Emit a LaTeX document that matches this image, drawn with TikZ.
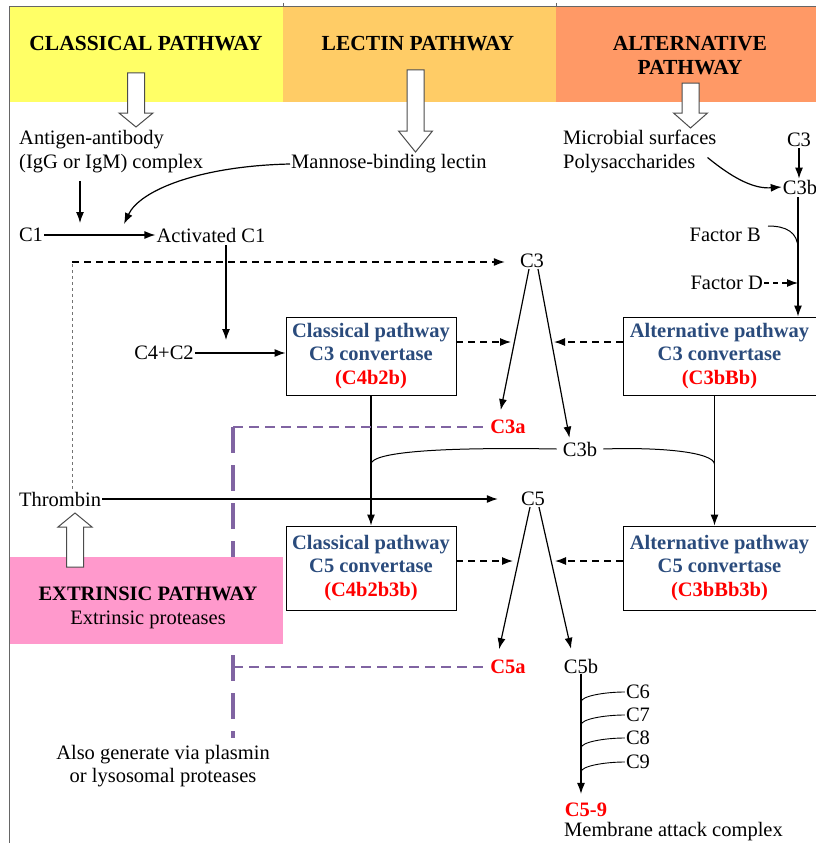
\documentclass[tikz,border=0pt]{standalone}
\usepackage{fontspec}
\setmainfont{Liberation Serif}
\usepackage{xcolor}
\usetikzlibrary{arrows.meta}

\definecolor{classyellow}{HTML}{FFFF66}
\definecolor{lectinorange}{HTML}{FFCC66}
\definecolor{altorange}{HTML}{FF9966}
\definecolor{extpink}{HTML}{FF99CC}
\definecolor{convblue}{HTML}{2A4B7C}
\definecolor{lysopurple}{HTML}{8064A2}

\tikzset{
  txt/.style={inner sep=1pt},
  hdr/.style={font=\fontsize{21.5}{24}\selectfont\bfseries, align=center},
  convbox/.style={draw, line width=0.9pt, align=center, text=convblue, font=\bfseries,
    minimum width=170pt, minimum height=78pt, inner sep=0pt},
  redlbl/.style={text=red, font=\bfseries, inner sep=1pt},
  arr/.style={line width=1.2pt, -{Latex[length=11pt,width=8pt]}},
  dasharr/.style={line width=1.2pt, dash pattern=on 7pt off 5pt, -{Latex[length=11pt,width=8pt]}},
  purpdash/.style={draw=lysopurple, line width=2.6pt, dash pattern=on 10pt off 6pt},
  hollow/.style={draw=black!70, line width=1pt, fill=white}
}

% x, shaft end, head base, tip
\newcommand{\hollowarrow}[4]{%
  \draw[hollow] (#1-8.5,#2) -- (#1+8.5,#2) -- (#1+8.5,#3) -- (#1+17,#3) -- (#1,#4)
    -- (#1-17,#3) -- (#1-8.5,#3) -- cycle;}

\begin{document}
\fontsize{20.5}{23.5}\selectfont
\begin{tikzpicture}[x=1pt,y=-1pt]
  \useasboundingbox (0,0) rectangle (816,843);
  % pathway bands
  \fill[classyellow] (9,7) rectangle (283,102);
  \fill[lectinorange] (283,7) rectangle (556,102);
  \fill[altorange] (556,7) rectangle (816,102);
  \draw[black!60, line width=0.8pt] (9,6) -- (816,6);
  \draw[black!60, line width=0.8pt] (9,6) -- (9,843);
  \foreach \x in {283,556}
    \draw[black!60, line width=0.8pt] (\x,3) -- (\x,7);
  \node[hdr] (classhdr) at (146,44) {CLASSICAL PATHWAY};
  \node[hdr] (lectinhdr) at (418,44) {LECTIN PATHWAY};
  \node[hdr] (althdr) at (690,56) {ALTERNATIVE\\PATHWAY};
  \hollowarrow{136}{73}{113}{127}
  \hollowarrow{415.5}{70}{131}{152}
  \hollowarrow{690.5}{83}{113}{128}

  % classical and lectin start
  \node[txt, align=left, anchor=west] (antigen) at (18,151.5) {Antigen-antibody\\(IgG or IgM) complex};
  \node[txt, anchor=west] (mbl) at (290,164) {Mannose-binding lectin};
  \node[txt] (c1) at (31,235) {C1};
  \node[txt] (actc1) at (211,235) {Activated C1};
  \coordinate (agtip) at (80,223);
  \coordinate (mbtip) at (124,224);
  \draw[arr, shorten <=7pt] (antigen.south -| agtip) -- (agtip);
  \draw[arr] (c1) -- (actc1);
  \draw[arr] (mbl.west) .. controls (200,166) and (140,190) .. (mbtip);

  % alternative start
  \node[txt, align=left, anchor=west] (microbe) at (562,151.5) {Microbial surfaces\\Polysaccharides};
  \node[txt] (c3alt) at (799,140) {C3};
  \node[txt] (c3balt) at (800,187) {C3b};
  \node[txt, anchor=east] (facb) at (762,235) {Factor B};
  \node[txt, anchor=east] (facd) at (764,283) {Factor D};
  \draw[arr] (c3alt.south) -- (c3alt.south |- c3balt.north);
  \draw[arr] ([shift={(-10pt,-6pt)}]microbe.east) .. controls (735,180) and (755,189) .. (c3balt.west);

  % C3 level
  \node[txt] (c3) at (532,261) {C3};
  \node[txt] (c4c2) at (164,353) {C4+C2};
  \node[convbox] (cc3) at (371,356) {Classical pathway\\C3 convertase\\\textcolor{red}{(C4b2b)}};
  \node[convbox, minimum width=193pt] (ac3) at (719.5,356) {Alternative pathway\\C3 convertase\\\textcolor{red}{(C3bBb)}};
  \coordinate (c1tip) at (226,340);
  \coordinate (fbjoin) at (798,249);
  \coordinate (c3l) at (511,342);
  \coordinate (c3r) at (554,342);
  \draw[arr, shorten <=2pt] ([xshift=15pt]actc1.south) -- (c1tip);
  \draw[arr] (c4c2) -- (c4c2 -| cc3.west);
  \draw[arr, shorten <=2pt] (c3balt.south -| fbjoin) -- (fbjoin |- ac3.north);
  \draw[line width=1pt] ([shift={(6pt,9pt)}]facb.east) .. controls (786,226) and (798,232) .. (fbjoin);
  \draw[line width=1.2pt, dash pattern=on 5pt off 4pt, -{Latex[length=11pt,width=8pt]}] (facd.east) -- (facd.east -| fbjoin);
  \draw[dasharr] (cc3.east |- c3l) -- (c3l);
  \draw[dasharr] (ac3.west |- c3r) -- (c3r);

  % thrombin dashed link
  \node[txt] (thr) at (60,499) {Thrombin};
  \coordinate (thrcorner) at (72,262);
  \draw[black!55, line width=0.8pt, dash pattern=on 3pt off 3pt] ([yshift=2pt]thr.north -| thrcorner) -- (thrcorner);
  \draw[dasharr, shorten >=14pt] (thrcorner) -- (thrcorner -| c3.west);

  % C3 split
  \node[redlbl] (c3a) at (508,427) {C3a};
  \node[txt, inner xsep=6pt] (c3b) at (580,449) {C3b};
  \draw[arr, shorten >=9pt] ([xshift=-3pt]c3.south) -- ([xshift=-9pt]c3a.north);
  \draw[arr, shorten >=3pt] ([xshift=6pt]c3.south) -- ([xshift=-10pt]c3b.north);
  \coordinate (arcl) at (371,464);
  \coordinate (arcr) at (714.5,464);
  \draw[line width=1pt] (arcl) .. controls (372,452) and (440,447) .. (c3b.west);
  \draw[line width=1pt] (c3b.east) .. controls (660,447) and (713,452) .. (arcr);

  % C5 level
  \node[txt] (c5) at (533,499) {C5};
  \node[convbox, minimum height=84pt] (cc5) at (371,568) {Classical pathway\\C5 convertase\\\textcolor{red}{(C4b2b3b)}};
  \node[convbox, minimum width=193pt, minimum height=84pt] (ac5) at (719.5,568) {Alternative pathway\\C5 convertase\\\textcolor{red}{(C3bBb3b)}};
  \coordinate (c5l) at (513,561);
  \coordinate (c5r) at (555,561);
  \draw[arr] (cc3.south) -- (cc5.north);
  \draw[arr] ([xshift=-5pt]ac3.south) -- ([xshift=-5pt]ac5.north);
  \draw[arr, shorten >=22pt] (thr) -- (c5);
  \draw[dasharr] (cc5.east |- c5l) -- (c5l);
  \draw[dasharr] (ac5.west |- c5r) -- (c5r);

  % C5 split
  \node[redlbl] (c5a) at (508,667) {C5a};
  \node[txt] (c5b) at (581,666) {C5b};
  \draw[arr, shorten >=10pt] ([xshift=-3pt]c5.south) -- ([xshift=-11pt]c5a.north);
  \draw[arr, shorten >=9pt] ([xshift=6pt]c5.south) -- ([xshift=-8pt]c5b.north);

  % lysosomal / plasmin route
  \coordinate (purptop) at (233,427);
  \coordinate (purpbot) at (233,738);
  \draw[purpdash, shorten >=4pt] (purptop) -- (c3a.west);
  \draw[purpdash, shorten >=4pt] (c5a.west -| purptop) -- (c5a.west);
  \draw[purpdash, line width=3.4pt, dash pattern=on 26pt off 12pt] (purptop) -- (purpbot);
  \node[txt, align=center] (plasmin) at (163,766) {Also generate via plasmin\\or lysosomal proteases};

  % extrinsic pathway
  \fill[extpink] (10,557) rectangle (283,644);
  \node[align=center] (extr) at (148,608) {\textbf{EXTRINSIC PATHWAY}\\Extrinsic proteases};
  \hollowarrow{75}{567}{527}{513}

  % membrane attack complex
  \node[redlbl] (c59) at (586,810) {C5-9};
  \node[txt, anchor=west] (mac) at (563,832) {Membrane attack complex};
  \draw[arr, shorten >=8pt] (c5b.south) -- (c5b.south |- c59.north);
  \foreach \n/\y in {6/692,7/715,8/738,9/762} {
    \node[txt] (c\n) at (638,\y) {C\n};
    \coordinate (j\n) at (581,\y+10);
    \draw[line width=0.9pt] (c\n.west) .. controls +(-20,0) and +(0,-6) .. (j\n);
  }
\end{tikzpicture}
\end{document}
